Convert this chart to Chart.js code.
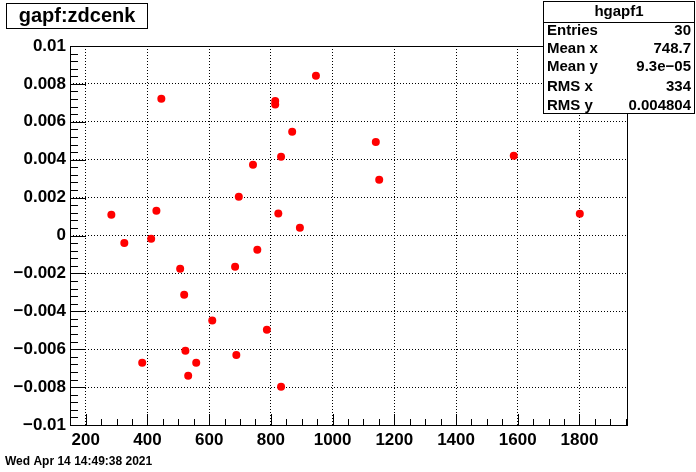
<!DOCTYPE html>
<html>
<head>
<meta charset="utf-8">
<script src="https://cdn.jsdelivr.net/npm/chart.js@4/dist/chart.umd.min.js"></script>
<style>
  body { margin: 0; background: #fff; }
  #wrap { width: 696px; height: 472px; }
</style>
</head>
<body>
<div id="wrap"><canvas id="chart" width="696" height="472"></canvas></div>
<script>
// tree values: gapf vs zdcenk
const zdcenk = [283, 445, 429, 412, 696, 742, 814, 814, 869, 833, 824, 894, 946,
  325, 756, 506, 684, 519, 610, 787, 523, 688, 383, 558, 532, 833, 1140, 1151, 1587, 1801];
const gapf = [0.00109, 0.00721, 0.00130, -0.00017, 0.00204, 0.00373, 0.00710, 0.00691, 0.00547, 0.00415, 0.00116, 0.00041, 0.00843,
  -0.00039, -0.00075, -0.00176, -0.00165, -0.00313, -0.00449, -0.00498, -0.00608, -0.00630, -0.00672, -0.00672, -0.00740, -0.00798, 0.00494, 0.00294, 0.00421, 0.00115];

const xTicks = [200, 400, 600, 800, 1000, 1200, 1400, 1600, 1800];
const yTicks = [-0.01, -0.008, -0.006, -0.004, -0.002, 0, 0.002, 0.004, 0.006, 0.008, 0.01];

const histTitle = 'gapf:zdcenk';
const statsTitle = 'hgapf1';
const statNames = ['Entries', 'Mean x', 'Mean y', 'RMS x', 'RMS y'];
const statValues = ['30', '748.7', '9.3e\u221205', '334', '0.004804'];
const dateText = 'Wed Apr 14 14:49:38 2021';

const FONT = '"Liberation Sans", Arial, Helvetica, sans-serif';

const points = zdcenk.map((x, i) => ({ x: x, y: gapf[i] }));

function fmtY(v) {
  if (Math.abs(v) < 1e-12) return '0';
  return String(+v.toPrecision(3)).replace('-', '\u2212');
}

// ROOT style frame, inward ticks, title box and stats box
const rootDecor = {
  id: 'rootDecor',
  afterDraw(chart) {
    const ctx = chart.ctx;
    const a = chart.chartArea;
    const xs = chart.scales.x, ys = chart.scales.y;
    ctx.save();
    ctx.strokeStyle = '#000';
    ctx.lineWidth = 1;

    // frame
    ctx.strokeRect(a.left + 0.5, a.top + 0.5, a.right - a.left, a.bottom - a.top);

    // y ticks (major every 0.002, minor every 0.0004)
    ctx.beginPath();
    for (let i = 0; i <= 50; i++) {
      const v = -0.01 + i * 0.0004;
      const py = Math.round(ys.getPixelForValue(v)) + 0.5;
      const len = i % 5 === 0 ? 16 : 8;
      ctx.moveTo(a.left, py);
      ctx.lineTo(a.left + len, py);
    }
    // x ticks (major every 200, minor every 50)
    for (let v = 150; v <= xs.max; v += 50) {
      if (v < xs.min) continue;
      const px = Math.round(xs.getPixelForValue(v)) + 0.5;
      const len = v % 200 === 0 ? 11 : 6;
      ctx.moveTo(px, a.bottom);
      ctx.lineTo(px, a.bottom - len);
    }
    ctx.stroke();

    // title box
    ctx.fillStyle = '#fff';
    ctx.fillRect(6, 3, 142, 25);
    ctx.strokeRect(6.5, 3.5, 141, 25);
    ctx.fillStyle = '#000';
    ctx.font = 'bold 20px ' + FONT;
    ctx.textAlign = 'center';
    ctx.textBaseline = 'middle';
    ctx.fillText(histTitle, 77, 16);

    // stats box
    ctx.fillStyle = '#fff';
    ctx.fillRect(543, 1, 152, 113);
    ctx.strokeRect(543.5, 1.5, 151, 112);
    ctx.beginPath();
    ctx.moveTo(543, 22.5);
    ctx.lineTo(695, 22.5);
    ctx.stroke();
    ctx.fillStyle = '#000';
    ctx.font = 'bold 15px ' + FONT;
    ctx.textAlign = 'center';
    ctx.fillText(statsTitle, 619, 12);
    const rowsY = [31, 49, 67, 87, 105.5];
    statNames.forEach((name, i) => {
      ctx.textAlign = 'left';
      ctx.fillText(name, 547, rowsY[i]);
      ctx.textAlign = 'right';
      ctx.fillText(statValues[i], 691, rowsY[i]);
    });

    // date stamp
    ctx.font = 'bold 12px ' + FONT;
    ctx.textAlign = 'left';
    ctx.fillText(dateText, 5, 462);
    ctx.restore();
  }
};

Chart.defaults.font.family = FONT;
Chart.defaults.color = '#000';

new Chart(document.getElementById('chart'), {
  type: 'scatter',
  data: {
    datasets: [{
      label: histTitle,
      data: points,
      pointStyle: 'circle',
      pointRadius: 4,
      pointHoverRadius: 4,
      pointBackgroundColor: 'rgb(255,0,0)',
      pointBorderColor: 'rgb(255,0,0)',
      pointBorderWidth: 0
    }]
  },
  options: {
    responsive: false,
    animation: false,
    layout: { padding: { top: 46, right: 69, bottom: 0, left: 0 } },
    plugins: {
      legend: { display: false },
      tooltip: { enabled: false },
      title: { display: false }
    },
    scales: {
      x: {
        type: 'linear',
        min: 149,
        max: 1954,
        afterBuildTicks: s => { s.ticks = xTicks.map(v => ({ value: v })); },
        afterFit: s => { s.height = 47; },
        border: { display: false, dash: [1, 2] },
        grid: { color: '#000', lineWidth: 1, drawTicks: false },
        ticks: { padding: 5, maxRotation: 0, autoSkip: false, callback: v => String(v), font: { size: 17, weight: 'bold' } }
      },
      y: {
        type: 'linear',
        min: -0.01,
        max: 0.01,
        afterBuildTicks: s => { s.ticks = yTicks.map(v => ({ value: v })); },
        afterFit: s => { s.width = 70; },
        border: { display: false, dash: [1, 2] },
        grid: { color: '#000', lineWidth: 1, drawTicks: false },
        ticks: { padding: 4, autoSkip: false, callback: v => fmtY(v), font: { size: 17, weight: 'bold' } }
      }
    }
  },
  plugins: [rootDecor]
});
</script>
</body>
</html>
